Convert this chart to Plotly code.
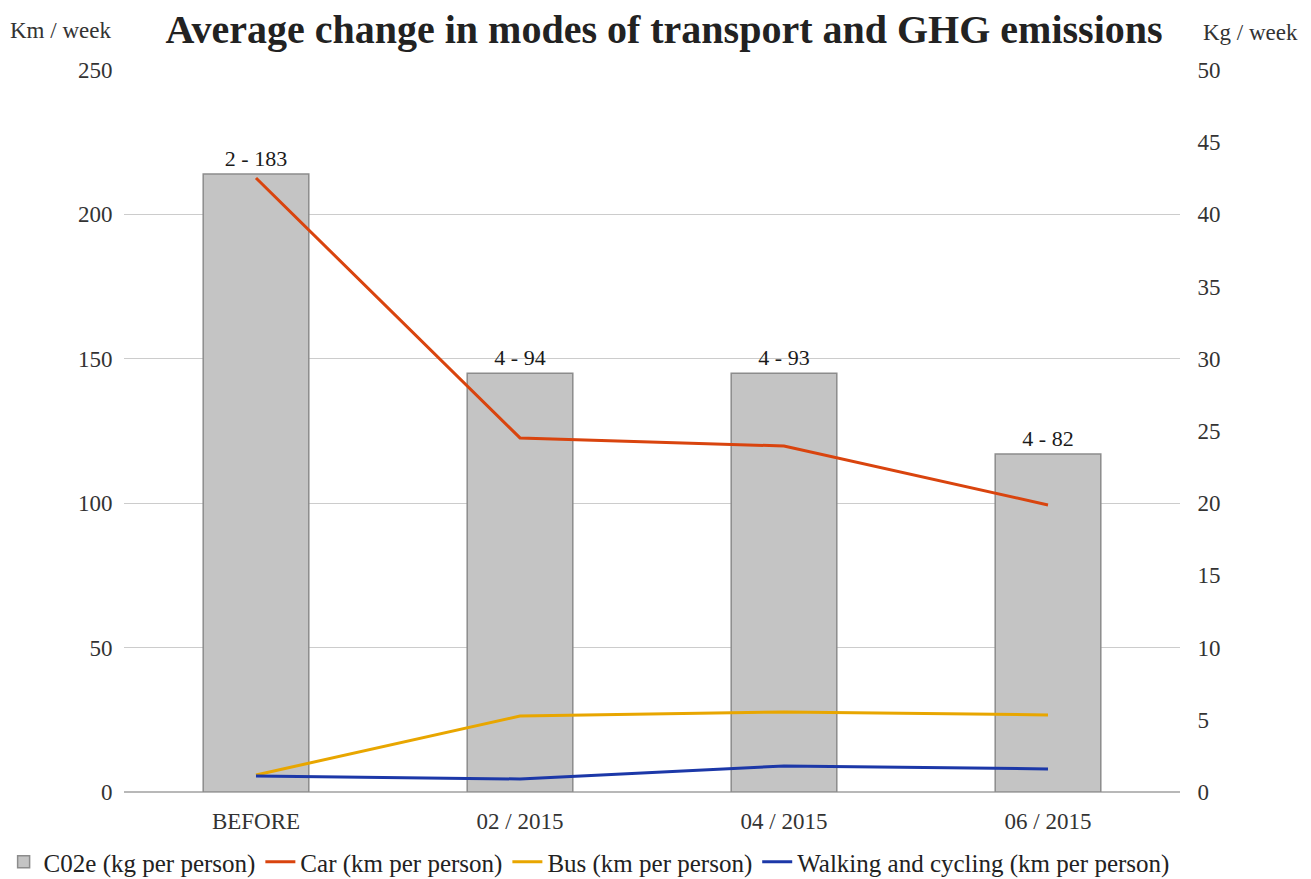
import plotly.graph_objects as go

categories = ["BEFORE", "02 / 2015", "04 / 2015", "06 / 2015"]
co2e = [42.8, 29.0, 29.0, 23.4]
co2e_labels = ["2 - 183", "4 - 94", "4 - 93", "4 - 82"]
car = [212.6, 122.6, 119.8, 99.4]
bus = [5.9, 26.3, 27.7, 26.7]
walk = [5.5, 4.5, 9.0, 8.0]
left_ticks = [0, 50, 100, 150, 200, 250]
right_ticks = [0, 5, 10, 15, 20, 25, 30, 35, 40, 45, 50]

FONT = "Liberation Serif"
TXT = "#333333"

fig = go.Figure()
# bars on the (right-side) primary axis so the lines on the overlay draw above them
fig.add_trace(go.Bar(
    x=categories, y=co2e, name="C02e (kg per person)", yaxis="y",
    marker=dict(color="#c4c4c4", line=dict(color="#8c8c8c", width=1.5)),
    width=0.4, text=co2e_labels, textposition="outside",
    textfont=dict(family=FONT, size=22, color="#1a1a1a"), cliponaxis=False,
))
fig.add_trace(go.Scatter(x=categories, y=car, name="Car (km per person)", mode="lines",
                         yaxis="y2", line=dict(color="#d9440e", width=3)))
fig.add_trace(go.Scatter(x=categories, y=bus, name="Bus (km per person)", mode="lines",
                         yaxis="y2", line=dict(color="#e8a600", width=3)))
fig.add_trace(go.Scatter(x=categories, y=walk, name="Walking and cycling (km per person)",
                         mode="lines", yaxis="y2", line=dict(color="#1c38a8", width=3)))

fig.update_layout(
    width=1303, height=871,
    margin=dict(l=116, r=131, t=62, b=87, autoexpand=False),
    paper_bgcolor="white", plot_bgcolor="white",
    font=dict(family=FONT, size=23, color=TXT),
    title=dict(text="<b>Average change in modes of transport and GHG emissions</b>",
               font=dict(family=FONT, size=40, color="#222222"),
               x=0.5035, xanchor="center", xref="container",
               y=0.976, yanchor="middle", yref="container"),
    xaxis=dict(range=[-0.5, 3.5], showgrid=False, ticks="outside", ticklen=8,
               tickcolor="white", tickfont=dict(size=23, color=TXT), showline=False),
    yaxis=dict(range=[0, 50], tickvals=right_ticks, side="right",
               showgrid=False, zeroline=False, tickfont=dict(size=23, color=TXT),
               ticks="outside", ticklen=12, tickcolor="white"),
    yaxis2=dict(range=[0, 250], tickvals=left_ticks, overlaying="y", side="left",
                showgrid=True, gridcolor="#cccccc", gridwidth=1,
                zeroline=True, zerolinecolor="#b8b8b8", zerolinewidth=1.5,
                tickfont=dict(size=23, color=TXT), ticks="outside", ticklen=6,
                tickcolor="white"),
    legend=dict(orientation="h", x=-0.114, xanchor="left", xref="paper",
                y=-0.097, yanchor="middle", yref="paper",
                font=dict(size=25, color="#222222"), traceorder="normal",
                itemwidth=30, tracegroupgap=0),
    annotations=[
        dict(text="Km / week", x=-0.0606, y=1.0554, xref="paper", yref="paper",
             showarrow=False, xanchor="center", yanchor="middle",
             font=dict(family=FONT, size=23, color=TXT)),
        dict(text="Kg / week", x=1.0668, y=1.0526, xref="paper", yref="paper",
             showarrow=False, xanchor="center", yanchor="middle",
             font=dict(family=FONT, size=23, color=TXT)),
    ],
)

fig.write_html("out.html")
